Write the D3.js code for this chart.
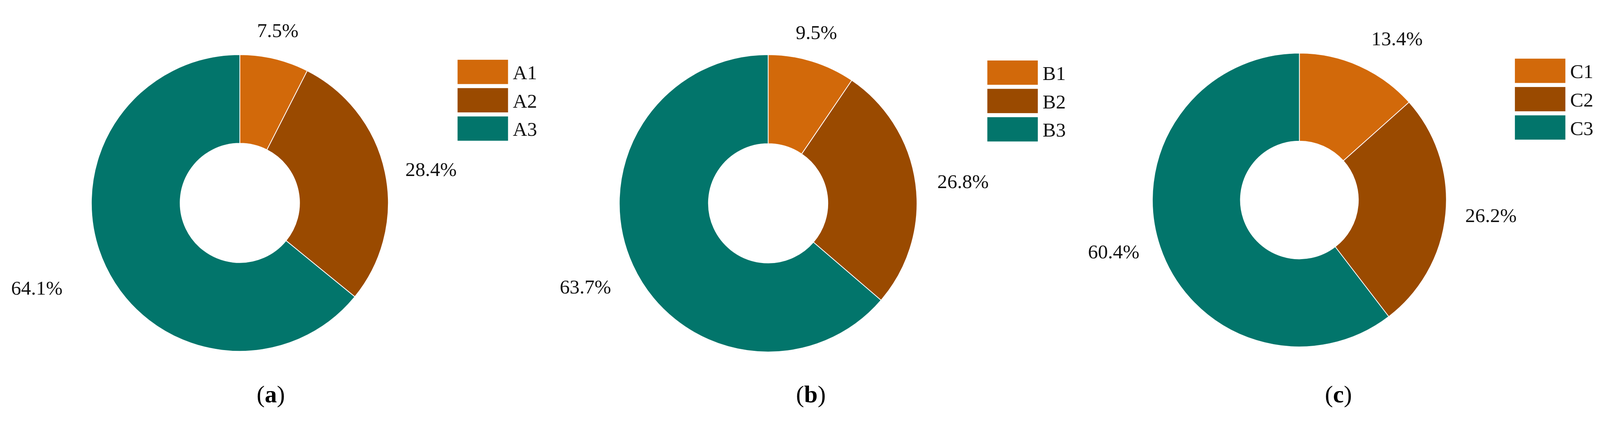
<!DOCTYPE html>
<html><head><meta charset="utf-8">
<script src="https://cdn.jsdelivr.net/npm/d3@7"></script>
<style>html,body{margin:0;padding:0;width:100%;height:100%;overflow:hidden;background:#fff}
svg{display:block;width:100vw;height:100vh}</style></head>
<body><svg id="c" viewBox="0 0 4343 1107" preserveAspectRatio="xMidYMid meet"></svg>
<script>
const panelLabels = ["a","b","c"];
const categoriesA = ["A1","A2","A3"];
const categoriesB = ["B1","B2","B3"];
const categoriesC = ["C1","C2","C3"];
const valuesA = [7.5, 28.4, 64.1];
const valuesB = [9.5, 26.8, 63.7];
const valuesC = [13.4, 26.2, 60.4];
const colors = ["#D2690A", "#9A4A00", "#02756B"];

const panels = [
  {cats: categoriesA, vals: valuesA, cx: 651, cy: 518, r: 403, ir: 162,
   lab: [[754,49],[1170,427],[100,749]], leg: [1242,129], title: [735,1038]},
  {cats: categoriesB, vals: valuesB, cx: 2085, cy: 519, r: 404, ir: 162,
   lab: [[2216,55],[2614,460],[1589,746]], leg: [2680,131], title: [2201,1038]},
  {cats: categoriesC, vals: valuesC, cx: 3527, cy: 510, r: 399, ir: 160,
   lab: [[3792,72],[4047,552],[3023,651]], leg: [4112,126], title: [3633,1038]}
];
const svg = d3.select("#c");
const font = "'Liberation Serif','Times New Roman',serif";
const color = d3.scaleOrdinal().range(colors);
panels.forEach((p, pi) => {
  color.domain(p.cats);
  const pie = d3.pie().sort(null).value(d => d.v);
  const arcs = pie(p.cats.map((c, i) => ({c, v: p.vals[i]})));
  const arc = d3.arc().innerRadius(p.ir).outerRadius(p.r);
  const g = svg.append("g").attr("transform", `translate(${p.cx},${p.cy})`);
  g.selectAll("path").data(arcs).join("path")
    .attr("d", arc).attr("fill", d => color(d.data.c))
    .attr("stroke", "#fff").attr("stroke-width", 2);
  arcs.forEach((d, i) => {
    svg.append("text").attr("x", p.lab[i][0]).attr("y", p.lab[i][1])
      .attr("text-anchor", "middle").attr("dominant-baseline", "central")
      .attr("font-family", font).attr("font-size", 54).attr("fill", "#111")
      .text(d.data.v.toFixed(1) + "%");
  });
  const lg = svg.append("g");
  p.cats.forEach((c, i) => {
    lg.append("rect").attr("x", p.leg[0]).attr("y", p.leg[1] + i * 77)
      .attr("width", 137).attr("height", 66).attr("fill", color(c));
    lg.append("text").attr("x", p.leg[0] + 150).attr("y", p.leg[1] + i * 77 + 35)
      .attr("dominant-baseline", "central").attr("font-family", font)
      .attr("font-size", 54).attr("fill", "#111").text(c);
  });
  const t = svg.append("text").attr("x", p.title[0]).attr("y", p.title[1])
    .attr("text-anchor", "middle").attr("dominant-baseline", "central")
    .attr("font-family", font).attr("font-size", 66).attr("fill", "#000");
  t.append("tspan").text("(");
  t.append("tspan").attr("font-weight", "bold").text(panelLabels[pi]);
  t.append("tspan").text(")");
});
</script></body></html>
